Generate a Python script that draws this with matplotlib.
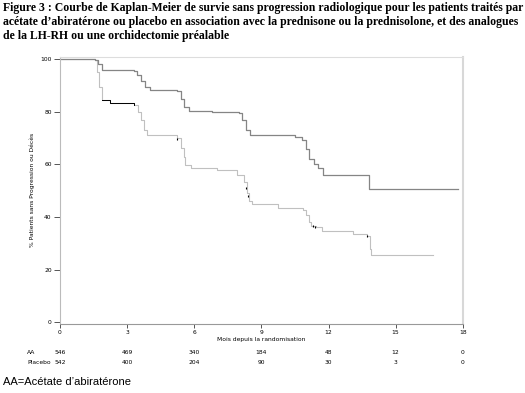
import matplotlib
matplotlib.use("Agg")
import matplotlib.pyplot as plt
from matplotlib.transforms import blended_transform_factory

# ---- data ----
aa_t = [0, 1.55, 1.7, 1.87, 3.3, 3.45, 3.6, 3.8, 4.0, 5.25, 5.4, 5.55, 5.75, 6.8, 8.0, 8.15, 8.3, 8.5,
        10.5, 10.8, 11.0, 11.15, 11.35, 11.55, 11.75, 13.72, 13.8, 17.8]
aa_s = [100, 99.5, 98, 96, 95.3, 94, 91.5, 89.5, 88.3, 88, 85, 82, 80.4, 79.8, 79.5, 77, 73, 71.2,
        70.6, 69.3, 66, 62, 60, 58.5, 56.1, 56.1, 50.6, 50.6]
pl_t = [0, 1.55, 1.65, 1.75, 1.87, 2.25, 3.3, 3.5, 3.6, 3.74, 3.9, 5.24, 5.4, 5.52, 5.6, 5.84, 7.0, 7.93,
        8.23, 8.35, 8.46, 8.6, 9.73, 10.85, 11.0, 11.15, 11.22, 11.45, 11.7, 13.1, 13.73, 13.85, 13.92, 16.65]
pl_s = [100, 99.5, 95, 89.5, 84.5, 83.2, 82.5, 80, 77, 73.1, 71.2, 70, 66.2, 63, 59.8, 58.6, 58, 56.1,
        53.5, 49.1, 46, 45, 43.4, 42.8, 40.9, 38, 36.7, 36.2, 34.8, 33.5, 33.0, 28, 25.8, 25.8]
pl_cens_t = [5.25, 8.3, 8.4, 11.3, 11.4, 13.7]
pl_cens_s = [69.5, 51, 48, 36.5, 36.3, 33.0]

months = [0, 3, 6, 9, 12, 15, 18]
risk_aa = [546, 469, 340, 184, 48, 12, 0]
risk_pl = [542, 400, 204, 90, 30, 3, 0]
yticks = [0, 20, 40, 60, 80, 100]

title_lines = [
    "Figure 3 : Courbe de Kaplan-Meier de survie sans progression radiologique pour les patients traités par",
    "acétate d’abiratérone ou placebo en association avec la prednisone ou la prednisolone, et des analogues",
    "de la LH-RH ou une orchidectomie préalable",
]

W, H = 525, 393
fig = plt.figure(figsize=(W / 100, H / 100), dpi=100)
ax = fig.add_axes([60 / W, (H - 323.5) / H, 403 / W, 266.5 / H])

ax.step(pl_t, pl_s, where="post", color="#c0c0c0", lw=0.8)
ax.step(aa_t, aa_s, where="post", color="#858585", lw=0.9)
# dense censoring portion of the placebo curve drawn in black
ax.step(pl_t[4:7], pl_s[4:7], where="post", color="black", lw=0.7)
ax.plot(pl_cens_t, pl_cens_s, ls="none", marker="|", ms=1.8, mew=0.8, color="black")

ax.set_xlim(0, 18.01)
ax.set_ylim(-0.4, 100.8)
ax.set_xticks(months)
ax.set_yticks(yticks)
ax.tick_params(axis="both", labelsize=4.3, colors="#555555", labelcolor="black", length=4, width=0.7, pad=2)
ax.tick_params(axis="x", length=3)
ax.spines["top"].set_color("#dddddd")
ax.spines["top"].set_linewidth(0.8)
ax.spines["right"].set_color("#d8d8d8")
ax.spines["right"].set_linewidth(1.5)
ax.spines["left"].set_color("#bbbbbb")
ax.spines["left"].set_linewidth(0.8)
ax.spines["bottom"].set_color("#999999")
ax.spines["bottom"].set_linewidth(0.8)

ax.set_xlabel("Mois depuis la randomisation", fontsize=4.3, labelpad=1)
ax.set_ylabel("% Patients sans Progression ou Décès", fontsize=4.3, labelpad=4)

tr = blended_transform_factory(ax.transData, fig.transFigure)
for m, a, p in zip(months, risk_aa, risk_pl):
    ax.text(m, 1 - 352 / H, str(a), transform=tr, ha="center", va="center", fontsize=4.3)
    ax.text(m, 1 - 362 / H, str(p), transform=tr, ha="center", va="center", fontsize=4.3)
fig.text(27 / W, 1 - 352 / H, "AA", ha="left", va="center", fontsize=4.3)
fig.text(27 / W, 1 - 362 / H, "Placebo", ha="left", va="center", fontsize=4.3)

for i, line in enumerate(title_lines):
    fig.text(3 / W, 1 - (8 + 14 * i) / H, line, ha="left", va="center", fontsize=8.5,
             fontweight="bold", family="Liberation Serif")
fig.text(3 / W, 1 - 382 / H, "AA=Acétate d’abiratérone", ha="left", va="center", fontsize=8,
         family="Liberation Sans")

fig.savefig("out.png", dpi=100)
